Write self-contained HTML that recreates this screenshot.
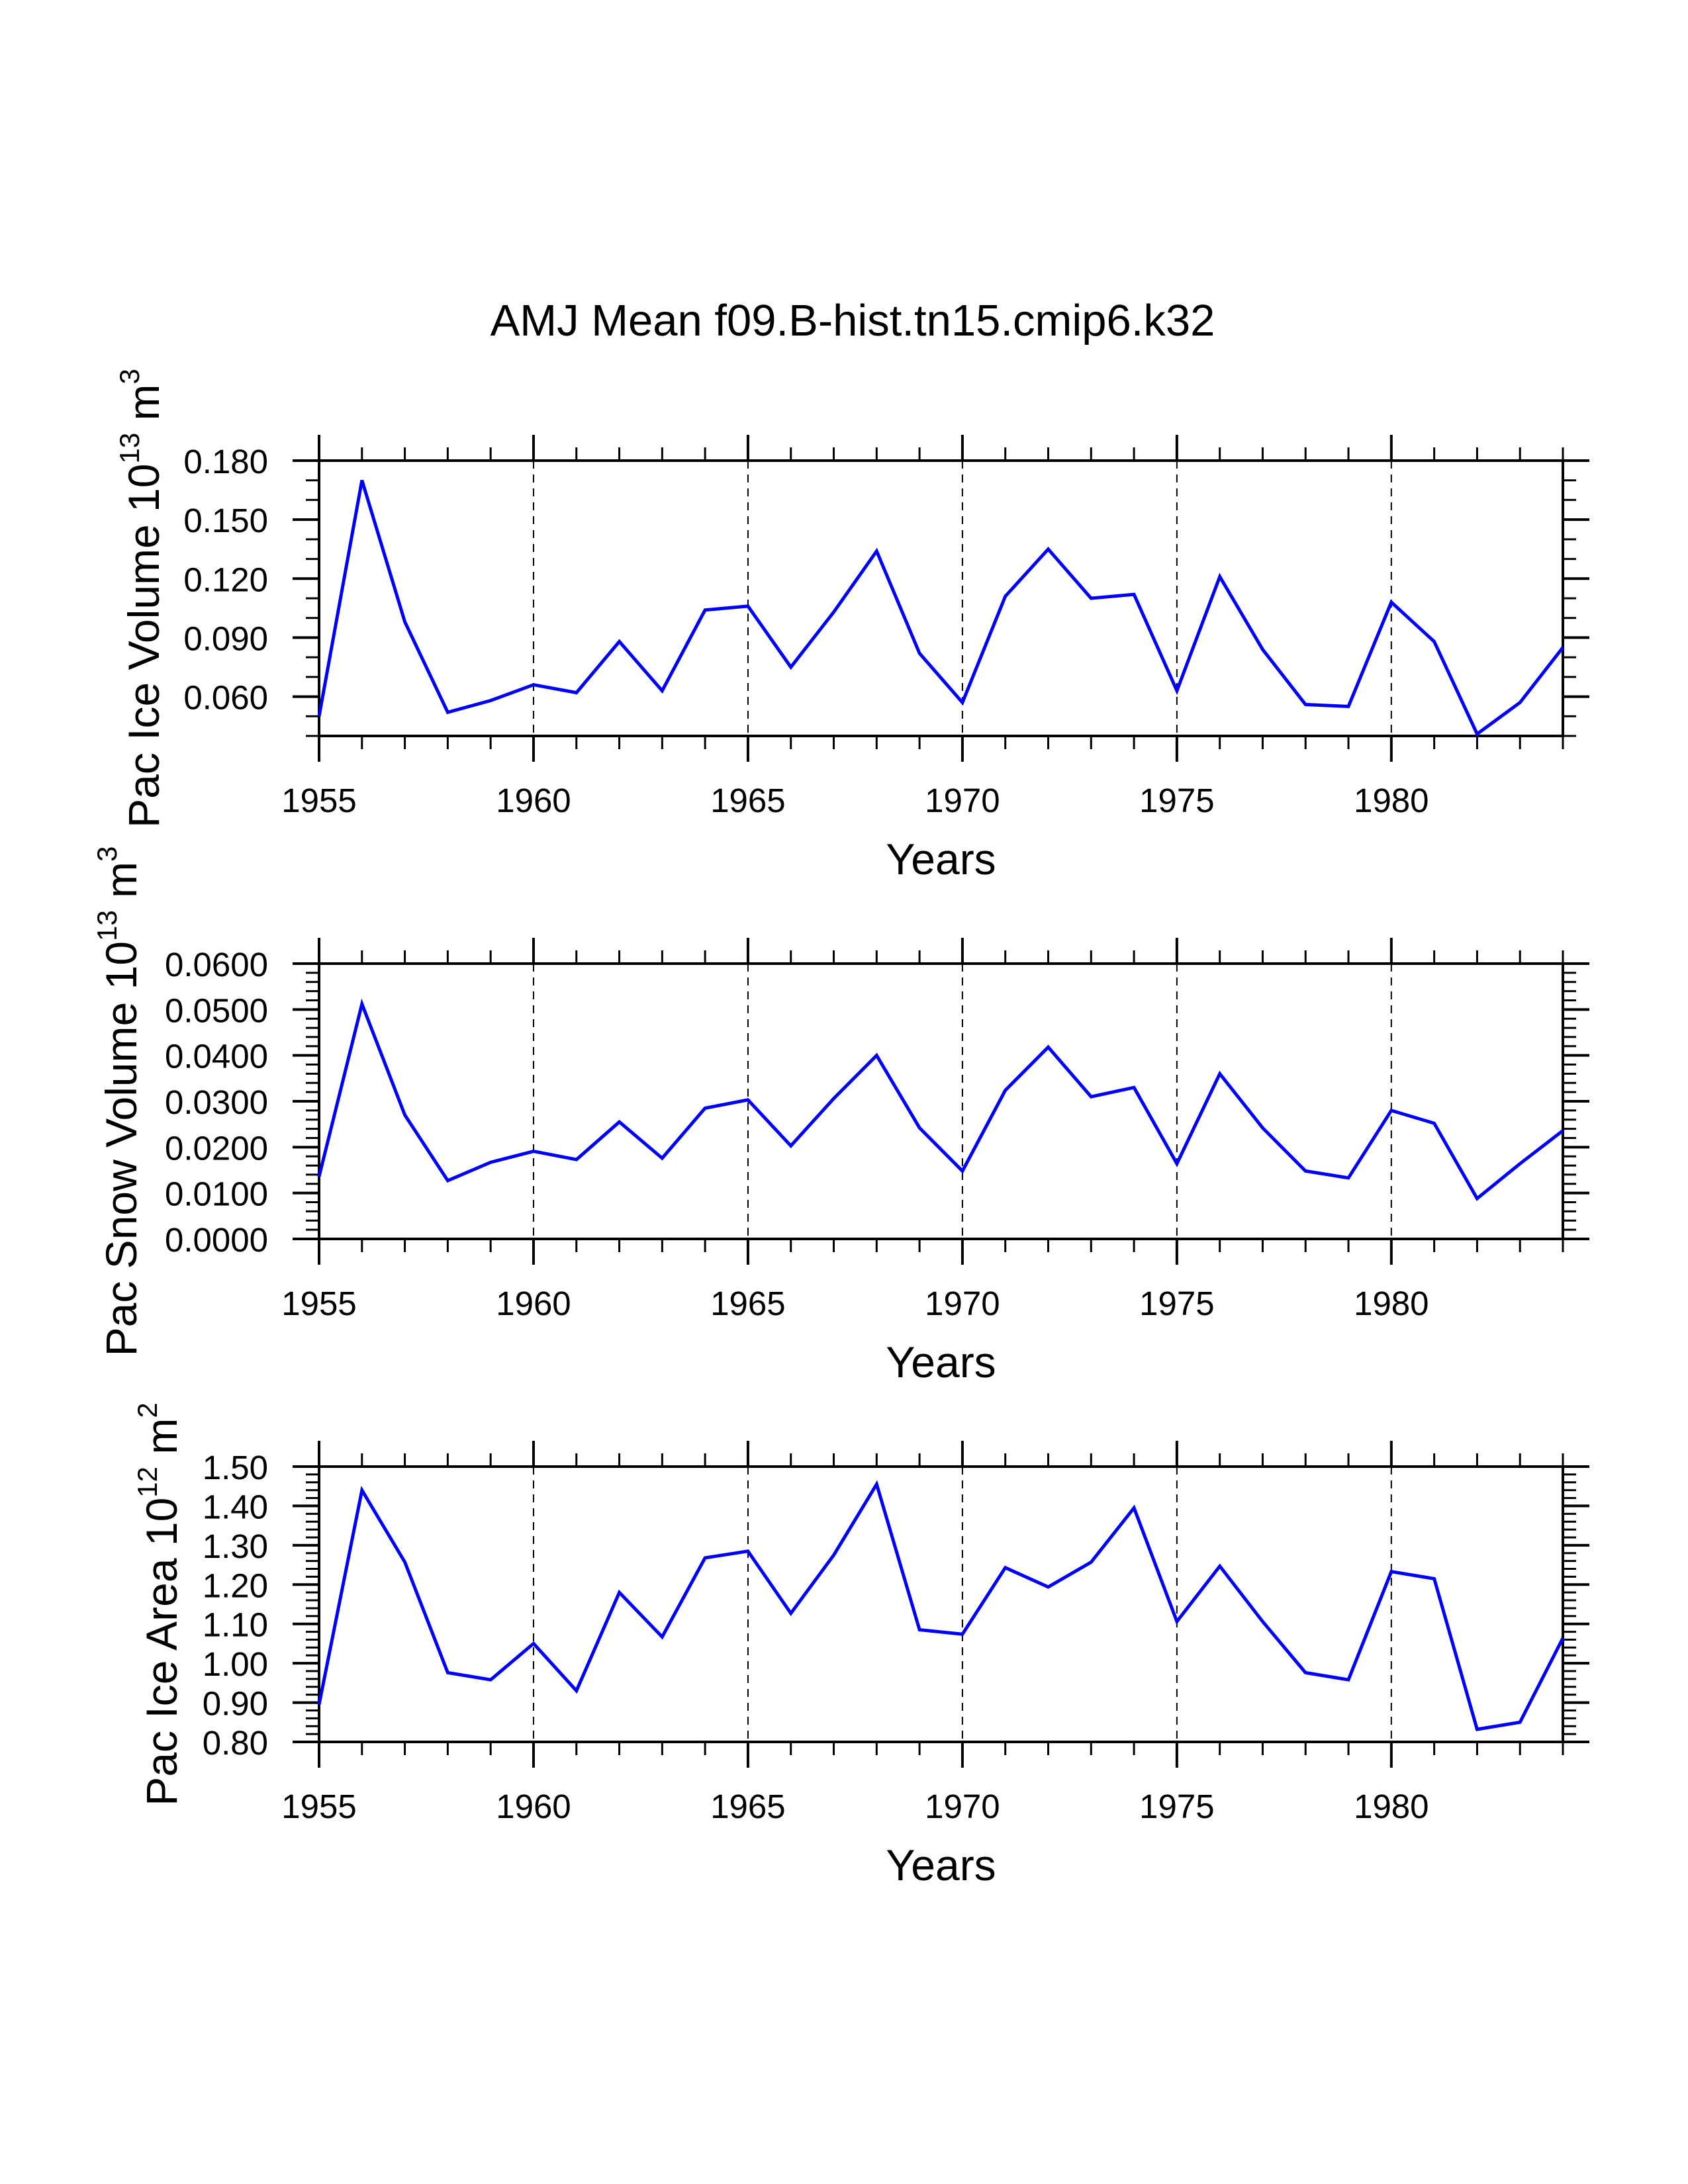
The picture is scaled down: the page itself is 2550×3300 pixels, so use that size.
<!DOCTYPE html>
<html><head><meta charset="utf-8"><style>
html,body{margin:0;padding:0;background:#fff;}
svg{display:block;font-family:"Liberation Sans",Arial,sans-serif;}
</style></head><body>
<svg id="chart" width="2550" height="3300" viewBox="0 0 2550 3300" xmlns="http://www.w3.org/2000/svg">
<text x="1288" y="507" font-size="67" text-anchor="middle">AMJ Mean f09.B-hist.tn15.cmip6.k32</text>
</svg>
<script>
const years = [1955,1956,1957,1958,1959,1960,1961,1962,1963,1964,1965,1966,1967,1968,1969,1970,1971,1972,1973,1974,1975,1976,1977,1978,1979,1980,1981,1982,1983,1984];
const iceVolume = [0.050,0.170,0.098,0.052,0.058,0.066,0.062,0.088,0.063,0.104,0.106,0.075,0.103,0.134,0.082,0.057,0.111,0.135,0.110,0.112,0.063,0.121,0.084,0.056,0.055,0.108,0.088,0.041,0.057,0.085];
const snowVolume = [0.0136,0.0512,0.0270,0.0127,0.0167,0.0191,0.0173,0.0255,0.0176,0.0285,0.0303,0.0203,0.0306,0.0400,0.0242,0.0148,0.0324,0.0418,0.0310,0.0330,0.0164,0.0360,0.0242,0.0148,0.0133,0.0280,0.0252,0.0088,0.0164,0.0236];
const iceArea = [0.895,1.44,1.257,0.976,0.958,1.05,0.93,1.18,1.067,1.268,1.285,1.127,1.275,1.455,1.085,1.074,1.243,1.194,1.257,1.395,1.106,1.247,1.106,0.976,0.958,1.233,1.215,0.832,0.85,1.064];
const xTickLabels = ["1955","1960","1965","1970","1975","1980"];
const iceVolTicks = ["0.060","0.090","0.120","0.150","0.180"];
const snowTicks = ["0.0000","0.0100","0.0200","0.0300","0.0400","0.0500","0.0600"];
const areaTicks = ["0.80","0.90","1.00","1.10","1.20","1.30","1.40","1.50"];

const NS = "http://www.w3.org/2000/svg";
const svg = document.getElementById('chart');
const X0 = 482, X1 = 2361;
function mk(tag, attrs, parent){const e=document.createElementNS(NS,tag);for(const k in attrs)e.setAttribute(k,attrs[k]);(parent||svg).appendChild(e);return e;}

const panels = [
  {key:'ice-volume', top:696, data:iceVolume, ymin:0.04, ymax:0.18, ticks:iceVolTicks, minor:0.01, label:'Pac Ice Volume 10', exp:'13', unit:' m', uexp:'3', labX:240},
  {key:'snow-volume', top:1456, data:snowVolume, ymin:0, ymax:0.06, ticks:snowTicks, minor:0.002, label:'Pac Snow Volume 10', exp:'13', unit:' m', uexp:'3', labX:206},
  {key:'ice-area', top:2216, data:iceArea, ymin:0.8, ymax:1.5, ticks:areaTicks, minor:0.02, label:'Pac Ice Area 10', exp:'12', unit:' m', uexp:'2', labX:267}
];
const H = 416;
panels.forEach(p=>{
  const g = mk('g',{});
  
  
  const xs = v => X0 + (v-years[0])/(years[years.length-1]-years[0])*(X1-X0);
  const ys = v => p.top + H - (v-p.ymin)/(p.ymax-p.ymin)*H;
  const bot = p.top+H;
  [1960,1965,1970,1975,1980].forEach(yr=>{
    const l = mk('line',{x1:xs(yr),x2:xs(yr),y1:p.top,y2:bot,stroke:'#000','stroke-width':2,'stroke-dasharray':'12,9'},g);
    
    
  });
  for(let yr=years[0]; yr<=years[years.length-1]; yr++){
    const major = (yr%5===0);
    const len = major?39:20;
    mk('line',{x1:xs(yr),x2:xs(yr),y1:p.top-len,y2:p.top,stroke:'#000','stroke-width':major?4:3},g);
    mk('line',{x1:xs(yr),x2:xs(yr),y1:bot,y2:bot+len,stroke:'#000','stroke-width':major?4:3},g);
  }
  xTickLabels.forEach(t=>{
    const tx = mk('text',{x:xs(+t),y:bot+115,'font-size':51,'text-anchor':'middle'},g);
    tx.textContent=t;
    
    
  });
  const nMinor = Math.round((p.ymax-p.ymin)/p.minor);
  const majVals = p.ticks.map(Number);
  for(let i=0;i<=nMinor;i++){
    const v = p.ymin + i*p.minor;
    const major = majVals.some(m=>Math.abs(m-v)<p.minor/10);
    const len = major?40:20;
    mk('line',{x1:X0-len,x2:X0,y1:ys(v),y2:ys(v),stroke:'#000','stroke-width':major?4:3},g);
    mk('line',{x1:X1,x2:X1+len,y1:ys(v),y2:ys(v),stroke:'#000','stroke-width':major?4:3},g);
  }
  p.ticks.forEach(t=>{
    const tx = mk('text',{x:405,y:ys(+t)+19,'font-size':51,'text-anchor':'end'},g);
    tx.textContent=t;
    
    
  });
  const fr = mk('rect',{x:X0,y:p.top,width:X1-X0,height:H,fill:'none',stroke:'#000','stroke-width':4},g);
  
  
  const pts = p.data.map((v,i)=>xs(years[i]).toFixed(1)+','+ys(v).toFixed(1)).join(' ');
  const pl = mk('polyline',{points:pts,fill:'none',stroke:'#0000ff','stroke-width':5,'stroke-linejoin':'miter'},g);
  
  
  const xt = mk('text',{x:(X0+X1)/2,y:bot+209,'font-size':66,'text-anchor':'middle'},g);
  xt.textContent='Years';
  
  
  const cy = p.top+H/2;
  const yt = mk('text',{x:0,y:0,'font-size':66,'text-anchor':'middle',transform:`translate(${p.labX},${cy}) rotate(-90)`},g);
  
  
  const s1 = mk('tspan',{},yt); s1.textContent=p.label;
  const s2 = mk('tspan',{'font-size':42,dy:-30},yt); s2.textContent=p.exp;
  const s3 = mk('tspan',{dy:30},yt); s3.textContent=p.unit;
  const s4 = mk('tspan',{'font-size':42,dy:-30},yt); s4.textContent=p.uexp;
});
</script>
</body></html>
